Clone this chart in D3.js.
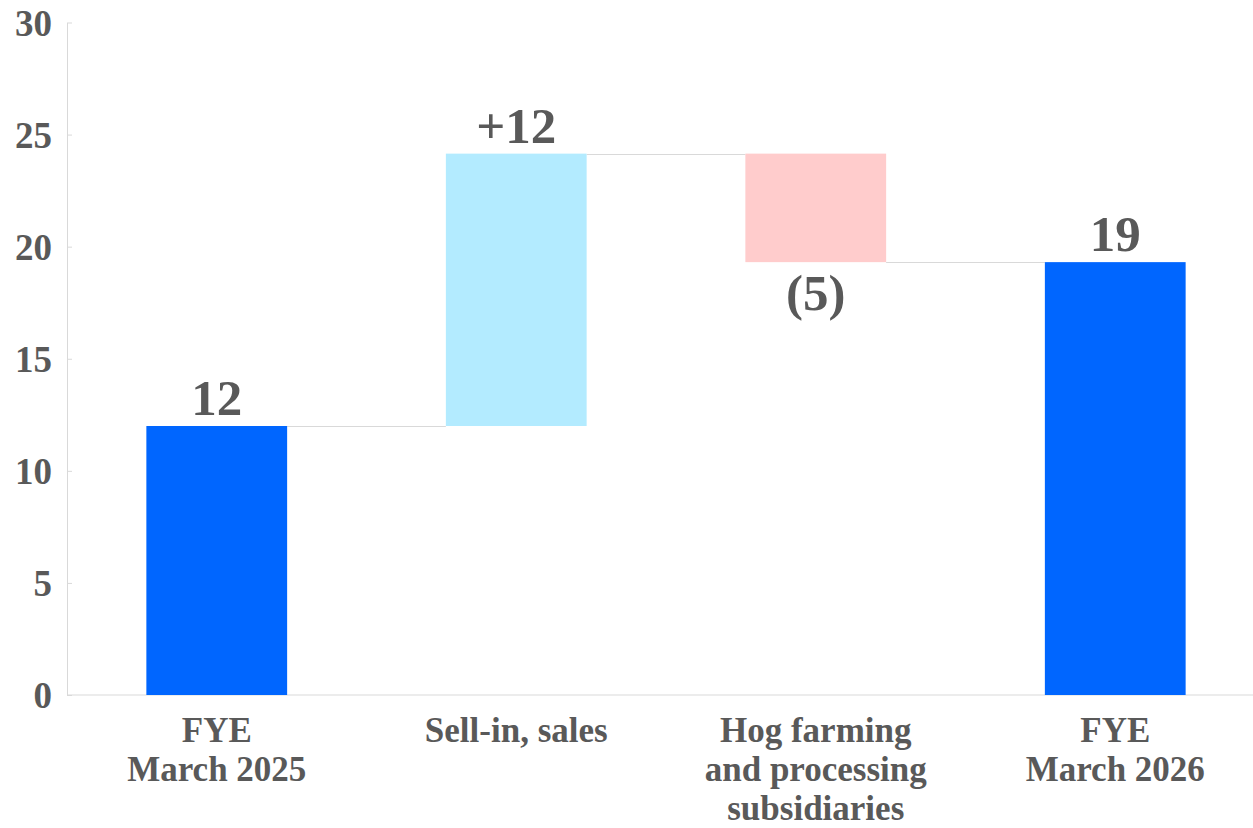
<!DOCTYPE html>
<html>
<head>
<meta charset="utf-8">
<script src="https://cdn.jsdelivr.net/npm/d3@7"></script>
<style>
  svg text, svg tspan { font-family: 'Liberation Serif', 'Times New Roman', Tinos, serif !important; font-weight: bold !important; }
</style>
</head>
<body style="margin:0;background:#fff">
<svg id="chart" width="1253" height="828" style="font-family:'Liberation Serif';font-weight:bold"></svg>
<script>
// waterfall data
const categories = [
    ['FYE', 'March 2025'],
    ['Sell-in, sales'],
    ['Hog farming', 'and processing', 'subsidiaries'],
    ['FYE', 'March 2026']
];
const values = [12.0, 12.15, -4.84, 19.31];
const kinds = ['total', 'up', 'down', 'total'];
const valueLabels = ['12', '+12', '(5)', '19'];
const yTicks = [0, 5, 10, 15, 20, 25, 30];

const colors = { total: '#0066FF', up: '#B3EBFF', down: '#FFCCCC' };
const FONT = "'Liberation Serif', 'Times New Roman', serif";
const TEXT_COLOR = '#595959';

// build start/end of each bar from a running total
let running = 0;
const bars = values.map((v, i) => {
    let y0, y1;
    if (kinds[i] === 'total') { y0 = 0; y1 = v; running = v; }
    else { y0 = running; y1 = running + v; running = y1; }
    return { i: i, y0: y0, y1: y1, kind: kinds[i], label: valueLabels[i], lines: categories[i] };
});

const svg = d3.select('#chart');
const x = d3.scaleBand()
    .domain(d3.range(categories.length))
    .range([67, 1265])
    .paddingInner(0.53)
    .paddingOuter(0.265);
const y = d3.scaleLinear().domain([0, 30]).range([695, 22.5]);

// y axis, ticks pointing inward
const yAxis = svg.append('g')
    .attr('transform', 'translate(67,0)')
    .call(d3.axisLeft(y).tickValues(yTicks).tickSize(-5).tickSizeOuter(0).tickPadding(15));
yAxis.attr('font-family', null).attr('font-size', null);
yAxis.select('.domain').attr('stroke', '#d9d9d9');
yAxis.selectAll('.tick line').attr('stroke', '#d9d9d9');
yAxis.selectAll('.tick text')
    .attr('fill', TEXT_COLOR)
    .attr('style', `font-family:${FONT};font-weight:bold;font-size:37px`)
    .attr('dy', '0.34em');

// baseline
svg.append('line')
    .attr('x1', 67).attr('x2', 1253)
    .attr('y1', y(0)).attr('y2', y(0))
    .attr('stroke', '#d9d9d9');

// connectors
svg.selectAll('.connector')
    .data(bars.slice(0, -1))
    .enter()
    .append('line')
    .attr('class', 'connector')
    .attr('x1', d => x(d.i) + x.bandwidth())
    .attr('x2', d => x(d.i + 1))
    .attr('y1', d => Math.round(y(d.y1)) + 0.5)
    .attr('y2', d => Math.round(y(d.y1)) + 0.5)
    .attr('stroke', '#d9d9d9')
    .attr('stroke-width', 1);

// bars
svg.selectAll('.bar')
    .data(bars)
    .enter()
    .append('rect')
    .attr('class', 'bar')
    .attr('x', d => x(d.i))
    .attr('width', x.bandwidth())
    .attr('y', d => y(Math.max(d.y0, d.y1)))
    .attr('height', d => Math.abs(y(d.y0) - y(d.y1)))
    .attr('fill', d => colors[d.kind]);

// value labels: above for rises/totals, below for drops
svg.selectAll('.value')
    .data(bars)
    .enter()
    .append('text')
    .attr('class', 'value')
    .attr('x', d => x(d.i) + x.bandwidth() / 2)
    .attr('y', d => d.kind === 'down' ? y(d.y1) + 48 : y(Math.max(d.y0, d.y1)) - 11)
    .attr('text-anchor', 'middle')
    .attr('fill', TEXT_COLOR)
    .attr('style', `font-family:${FONT};font-weight:bold;font-size:51px`)
    .text(d => d.label);

// category labels
const cat = svg.selectAll('.cat')
    .data(bars)
    .enter()
    .append('text')
    .attr('class', 'cat')
    .attr('text-anchor', 'middle')
    .attr('fill', TEXT_COLOR)
    .attr('style', `font-family:${FONT};font-weight:bold;font-size:35px`);
cat.selectAll('tspan')
    .data(d => d.lines.map(l => ({ l: l, cx: x(d.i) + x.bandwidth() / 2 })))
    .enter()
    .append('tspan')
    .attr('x', d => d.cx)
    .attr('y', (d, j) => 742 + j * 39)
    .text(d => d.l);
</script>
</body>
</html>
